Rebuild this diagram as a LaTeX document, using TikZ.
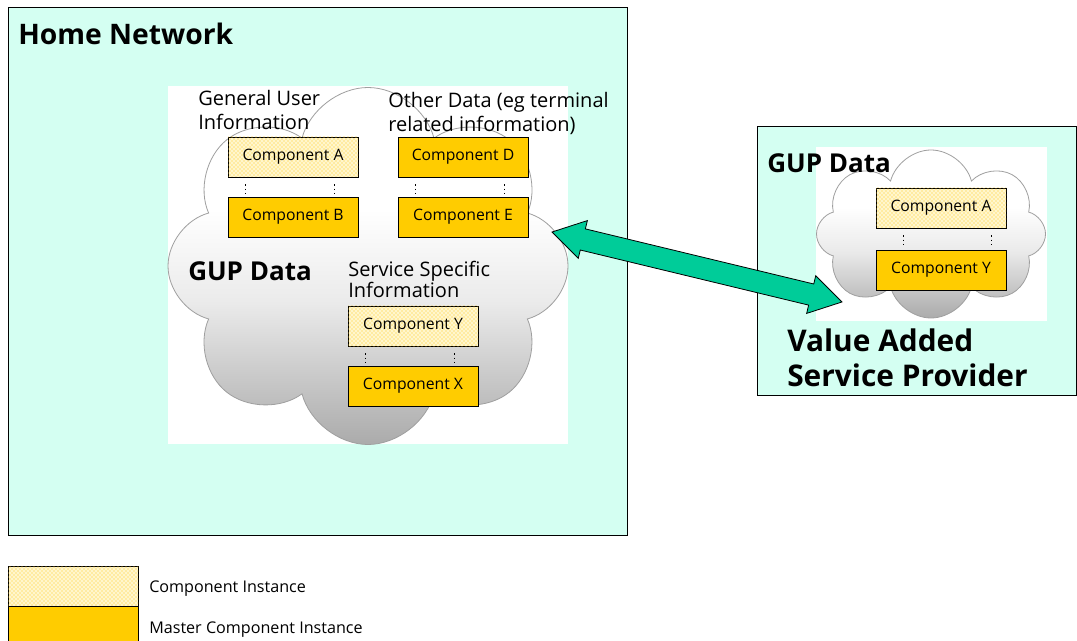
\documentclass[tikz,border=0pt]{standalone}
\usepackage{fontspec}
\setmainfont{Open Sans}
\usetikzlibrary{shapes.symbols,shapes.arrows,patterns,calc}

\definecolor{homeCyan}{RGB}{212,255,242}
\definecolor{masterYellow}{RGB}{255,204,0}
\definecolor{instYellow}{RGB}{255,200,20}
\definecolor{instPale}{RGB}{255,246,205}
\definecolor{linkGreen}{RGB}{0,204,153}
\pgfdeclareverticalshading{cloudshade}{100bp}{color(0bp)=(black!33); color(25bp)=(black!33); color(45bp)=(black!8); color(58bp)=(white); color(100bp)=(white)}

\begin{document}
\begin{tikzpicture}[x=0.75pt,y=0.75pt,yscale=-1,xscale=1,
  netbox/.style={draw=black, fill=homeCyan, line width=0.6pt},
  gupcloud/.style={cloud, cloud ignores aspect, draw=gray!75, line width=0.6pt, shading=cloudshade, inner sep=0pt},
  master/.style={draw=black, line width=0.6pt, fill=masterYellow, minimum width=97.5pt, minimum height=30pt, inner sep=0pt, font=\fontsize{11.8}{14}\selectfont},
  instance/.style={master, fill=instPale, postaction={pattern=crosshatch dots, pattern color=instYellow}},
  vdots/.style={line width=0.9pt, dash pattern=on 1pt off 2.2pt},
  bigtitle/.style={font=\fontsize{21.2}{26}\selectfont\bfseries, inner sep=0pt},
  vastitle/.style={font=\fontsize{22.4}{26}\selectfont\bfseries, inner sep=0pt},
  gupnote/.style={font=\fontsize{19.5}{24}\selectfont\bfseries, inner sep=0pt},
  infonote/.style={font=\fontsize{15}{18}\selectfont, inner sep=0pt},
  legendnote/.style={font=\fontsize{12.1}{14}\selectfont, inner sep=0pt},
  gupLink/.style={double arrow, draw=black, line width=0.6pt, fill=linkGreen, minimum height=223.7pt, minimum width=0pt, inner xsep=0pt, inner ysep=7.85pt, double arrow head extend=6.4pt, double arrow tip angle=63}]
\useasboundingbox (0,0) rectangle (1077,641);

%Shape: Home network box
\draw [netbox] (8,7) rectangle (627,535) ;
%Shape: white back of the cloud
\fill [white] (168,86) rectangle (568,444) ;
%Shape: cloud
\node [gupcloud, cloud puffs=8, minimum width=300pt, minimum height=267.75pt] (homeCloud) at (368,266) {};

% Text Node
\node [bigtitle, anchor=base west] (homeTitle) at (18,45) {Home Network};
% Text Node
\node [gupnote, anchor=base west] (homeGup) at (188,281) {GUP Data};
% Text Node
\node [infonote, anchor=base west] (genInfoA) at (198,106) {General User};
\node [infonote, anchor=base west] (genInfoB) at (198,130) {Information};
% Text Node
\node [infonote, anchor=base west] (otherInfoA) at (388,108) {Other Data (eg terminal};
\node [infonote, anchor=base west] (otherInfoB) at (388,132) {related information)};
% Text Node
\node [infonote, anchor=base west] (servInfoA) at (348,277) {Service Specific};
\node [infonote, anchor=base west] (servInfoB) at (348,298) {Information};

%Components
\node [instance] (compA) at (293,157) {Component A};
\node [master] (compB) at (293,217) {Component B};
\node [master] (compD) at (463,157) {Component D};
\node [master] (compE) at (463,217) {Component E};
\node [instance] (compY) at (413,326) {Component Y};
\node [master] (compX) at (413,386) {Component X};

%Dotted links
\draw [vdots] ($(compA.south west)+(18,7)$) -- ($(compB.north west)+(18,-3)$) ;
\draw [vdots] ($(compA.south east)+(-24,7)$) -- ($(compB.north east)+(-24,-3)$) ;
\draw [vdots] ($(compD.south west)+(18,7)$) -- ($(compE.north west)+(18,-3)$) ;
\draw [vdots] ($(compD.south east)+(-24,7)$) -- ($(compE.north east)+(-24,-3)$) ;
\draw [vdots] ($(compY.south west)+(18,7)$) -- ($(compX.north west)+(18,-3)$) ;
\draw [vdots] ($(compY.south east)+(-24,7)$) -- ($(compX.north east)+(-24,-3)$) ;

%Shape: provider box
\draw [netbox] (757,126) rectangle (1076,395) ;
%Shape: white back of the small cloud
\fill [white] (816,147) rectangle (1047,321) ;
%Shape: small cloud
\node [gupcloud, cloud puffs=8, minimum width=171.75pt, minimum height=126pt] (vasCloud) at (931,234) {};

% Text Node
\node [gupnote, anchor=base west] (vasGup) at (767,173) {GUP Data};
% Text Node
\node [vastitle, anchor=base west] (vasTitleA) at (787,351) {Value Added};
\node [vastitle, anchor=base west] (vasTitleB) at (787,386) {Service Provider};

%Components
\node [instance] (vasCompA) at (941,208) {Component A};
\node [master] (vasCompY) at (941,270) {Component Y};
\draw [vdots] ($(vasCompA.south west)+(28,7)$) -- ($(vasCompY.north west)+(28,-3)$) ;
\draw [vdots] ($(vasCompA.south east)+(-15,7)$) -- ($(vasCompY.north east)+(-15,-3)$) ;

%Shape: double arrow
\node [gupLink, rotate=-13.57] (gupLink) at (697,267) {};

%Legend
\draw [line width=0.6pt, fill=instPale, postaction={pattern=crosshatch dots, pattern color=instYellow}] (8,566) rectangle (138,606) ;
\draw [line width=0.6pt, fill=masterYellow] (8,606) rectangle (138,646) ;
% Text Node
\node [legendnote, anchor=base west] (legInst) at (149,592) {Component Instance};
% Text Node
\node [legendnote, anchor=base west] (legMaster) at (149,633) {Master Component Instance};

\end{tikzpicture}
\end{document}
